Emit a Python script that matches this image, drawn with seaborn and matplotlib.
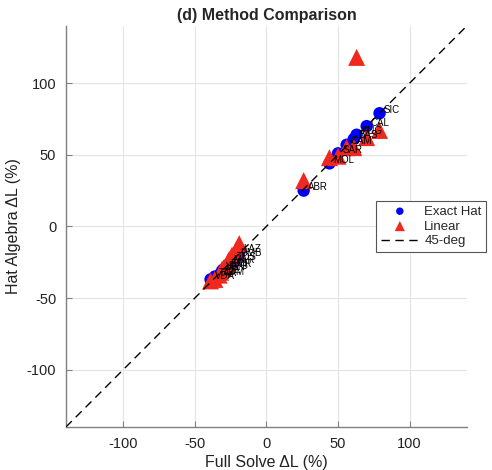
import matplotlib
matplotlib.use("Agg")
import matplotlib.pyplot as plt
import seaborn as sns
import pandas as pd

regions = ["ABR", "MOL", "SAR", "CAM", "BAS", "PUG", "CAL", "SIC",
           "LAZ", "UMB", "TOS", "MAR", "LIG", "EMR", "FVG", "VEN",
           "PIE", "LOM", "TAA", "VDA"]
full_solve = [26, 44, 50, 56, 61, 63, 70, 79,
              -19, -21, -24, -26, -27, -28, -30, -31, -32, -33, -36, -39]
exact_hat = [25, 44, 51, 57, 61, 64, 70, 79,
             -18, -21, -24, -26, -28, -29, -30, -31, -33, -34, -35, -37]
linear = [32, 48, 49, 55, 55, 118, 62, 67,
          -12, -16, -20, -23, -25, -27, -29, -30, -32, -34, -37, -38]
lims = [-140, 140]
ticks = [-100, -50, 0, 50, 100]

df = pd.DataFrame({"region": regions, "full": full_solve, "hat": exact_hat, "lin": linear})

sns.set_style("white")
plt.rcParams["font.family"] = ["Liberation Sans", "DejaVu Sans"]
plt.rcParams["axes.unicode_minus"] = False

fig = plt.figure(figsize=(4.92, 4.70), dpi=100)
ax = fig.add_axes([0.134, 0.0915, 0.815, 0.8535])

sns.scatterplot(data=df, x="full", y="hat", ax=ax, color="#0000ff", marker="o",
                s=80, edgecolor="none", label="Exact Hat", zorder=2)
sns.scatterplot(data=df, x="full", y="lin", ax=ax, color="#f0281e", marker="^",
                s=150, edgecolor="none", label="Linear", zorder=3)
ax.plot(lims, lims, color="black", linestyle=(0, (6, 4)), linewidth=1.0,
        label="45-deg", zorder=4)

for r, x, y in zip(regions, full_solve, exact_hat):
    ax.text(x + 3, y + 2.5, r, fontsize=7, color="black", va="center", ha="left", zorder=5)

ax.set_xlim(lims)
ax.set_ylim(lims)
ax.set_xticks(ticks)
ax.set_yticks(ticks)
ax.grid(True, color="#e4e4e4", linewidth=0.8)
ax.set_axisbelow(True)
for s in ["top", "right"]:
    ax.spines[s].set_visible(False)
for s in ["left", "bottom"]:
    ax.spines[s].set_color("#808080")
    ax.spines[s].set_linewidth(1.0)
ax.tick_params(axis="both", direction="in", length=4, color="#808080",
               labelsize=10.5, labelcolor="#222222", bottom=True, left=True, pad=7)
ax.set_xlabel("Full Solve \u0394L (%)", fontsize=11.5, color="#222222", labelpad=3)
ax.set_ylabel("Hat Algebra \u0394L (%)", fontsize=11.5, color="#222222", labelpad=4)
ax.set_title("(d) Method Comparison", fontsize=11.5, fontweight="bold", pad=4)

h, l = ax.get_legend_handles_labels()
order = [l.index("Exact Hat"), l.index("Linear"), l.index("45-deg")]
leg = ax.legend([h[i] for i in order], [l[i] for i in order], loc="center left",
                bbox_to_anchor=(0.757, 0.5), fontsize=9.5, frameon=True, fancybox=False,
                edgecolor="#555555", framealpha=1, borderpad=0.35, handlelength=2.9,
                handletextpad=0.4, labelspacing=0.2, markerscale=0.6)
leg.get_frame().set_linewidth(0.8)

fig.savefig("out.png", dpi=100)
